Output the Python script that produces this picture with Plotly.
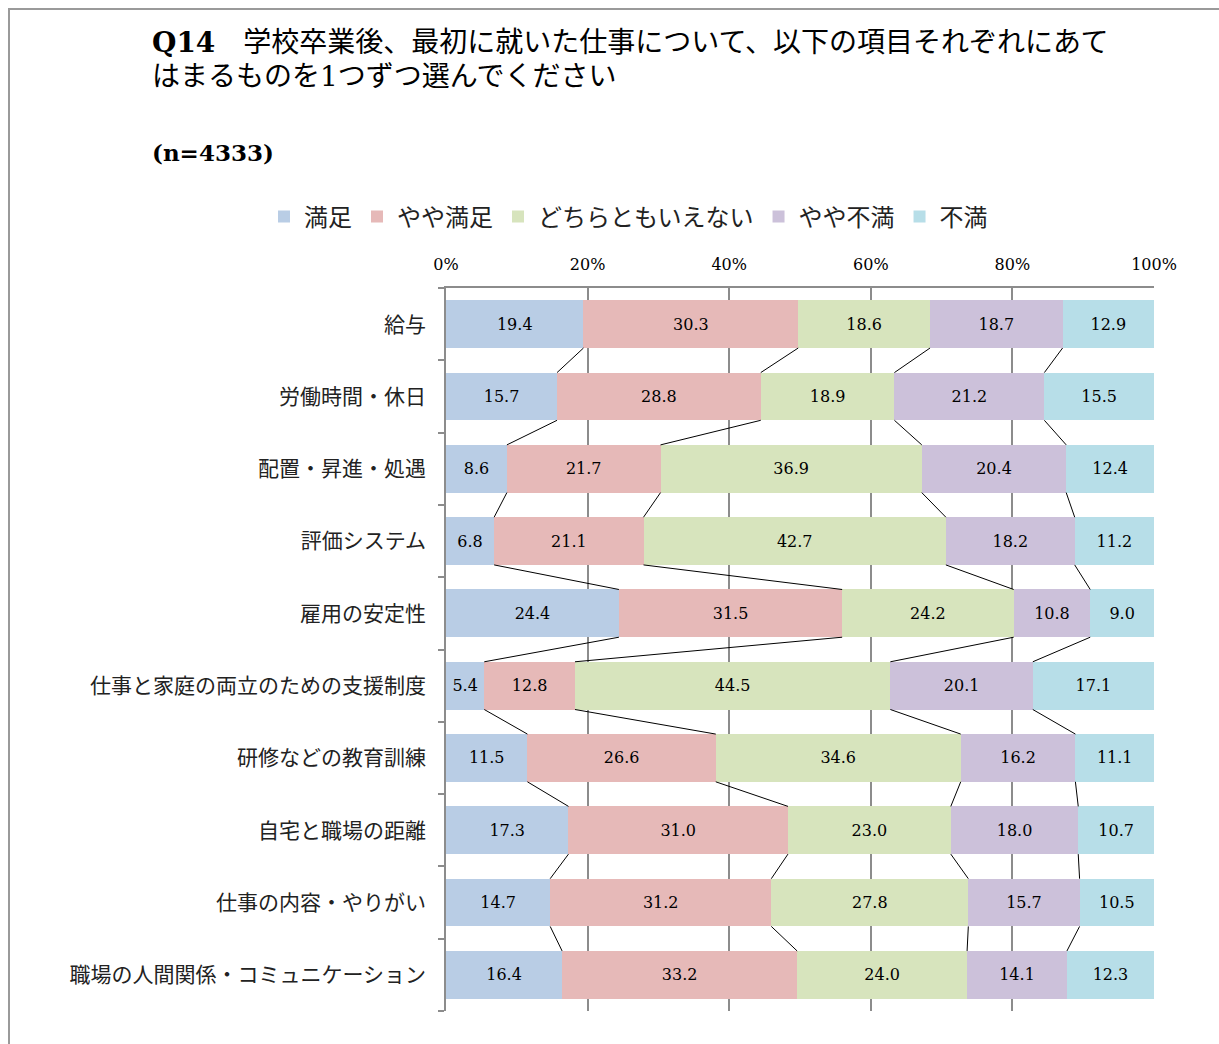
import plotly.graph_objects as go

categories = ["給与", "労働時間・休日", "配置・昇進・処遇", "評価システム", "雇用の安定性",
              "仕事と家庭の両立のための支援制度", "研修などの教育訓練", "自宅と職場の距離",
              "仕事の内容・やりがい", "職場の人間関係・コミュニケーション"]
series_names = ["満足", "やや満足", "どちらともいえない", "やや不満", "不満"]
manzoku = [19.4, 15.7, 8.6, 6.8, 24.4, 5.4, 11.5, 17.3, 14.7, 16.4]
yaya_manzoku = [30.3, 28.8, 21.7, 21.1, 31.5, 12.8, 26.6, 31.0, 31.2, 33.2]
dochiramo = [18.6, 18.9, 36.9, 42.7, 24.2, 44.5, 34.6, 23.0, 27.8, 24.0]
yaya_fuman = [18.7, 21.2, 20.4, 18.2, 10.8, 20.1, 16.2, 18.0, 15.7, 14.1]
fuman = [12.9, 15.5, 12.4, 11.2, 9.0, 17.1, 11.1, 10.7, 10.5, 12.3]
x_ticks = [0, 20, 40, 60, 80, 100]

series_values = [manzoku, yaya_manzoku, dochiramo, yaya_fuman, fuman]
colors = ["#b9cde5", "#e6b9b8", "#d7e4bd", "#ccc1da", "#b7dee8"]

W, H = 1219, 1044
L, R, T, B = 446, 1154, 288, 1011
def px(x):
    return (x - L) / (R - L)
def py(y):
    return (B - y) / (B - T)

SERIF = "DejaVu Serif, Noto Sans CJK JP"
CJK = "Noto Sans CJK JP"
BAR_W = 0.66

idx = list(range(len(categories)))
fig = go.Figure()
for name, vals, col in zip(series_names, series_values, colors):
    fig.add_trace(go.Bar(
        name=name, y=idx, x=vals, orientation="h", width=BAR_W,
        marker=dict(color=col, line=dict(width=0)),
        text=[f"{v:.1f}" for v in vals], texttemplate="%{text}",
        textposition="inside", insidetextanchor="middle", textangle=0,
        textfont=dict(family=SERIF, size=16, color="black"),
        hoverinfo="skip",
    ))

# series lines connecting stacked boundaries between adjacent bars
totals = [sum(s[i] for s in series_values) for i in idx]
cums = []
for i in idx:
    c, row = 0.0, []
    for s in series_values[:-1]:
        c += s[i]
        row.append(c / totals[i] * 100)
    cums.append(row)
lx, ly = [], []
for k in range(len(series_values) - 1):
    for i in idx[:-1]:
        lx += [cums[i][k], cums[i + 1][k], None]
        ly += [i + BAR_W / 2, i + 1 - BAR_W / 2, None]
fig.add_trace(go.Scatter(x=lx, y=ly, mode="lines", line=dict(color="black", width=1),
                         showlegend=False, hoverinfo="skip"))

fig.update_layout(
    width=W, height=H, barmode="stack", barnorm="percent",
    margin=dict(l=L, r=W - R, t=T, b=H - B, autoexpand=False),
    paper_bgcolor="white", plot_bgcolor="white",
    font=dict(family=SERIF, color="black"),
    showlegend=True,
    legend=dict(orientation="h", x=px(264), y=py(217), xanchor="left", yanchor="middle",
                font=dict(family=CJK, size=24, color="#222"), traceorder="normal",
                itemwidth=30, bgcolor="rgba(0,0,0,0)"),
    xaxis=dict(range=[0, 100], side="top", tickvals=x_ticks,
               ticktext=[f"{v}%" for v in x_ticks], showgrid=True, gridcolor="#8c8c8c",
               gridwidth=1.5, showline=True, linecolor="#8c8c8c", linewidth=1.5,
               zeroline=False, ticks="", ticklabelstandoff=10,
               tickfont=dict(family=SERIF, size=16, color="black")),
    yaxis=dict(range=[len(categories) - 0.5, -0.5], tickvals=idx, ticktext=categories,
               showgrid=False, zeroline=False, showline=True, linecolor="#8c8c8c",
               linewidth=1.5, ticks="", ticklabelstandoff=14,
               tickfont=dict(family=CJK, size=21, color="#222"),
               minor=dict(ticks="outside", tickvals=[i - 0.5 for i in range(len(categories) + 1)],
                          ticklen=6, tickcolor="#8c8c8c", tickwidth=1.5, showgrid=False)),
    shapes=[dict(type="rect", xref="paper", yref="paper",
                 x0=px(9), x1=px(1240), y0=py(1060), y1=py(9),
                 line=dict(color="#9a9a9a", width=2), fillcolor="rgba(0,0,0,0)", layer="above")],
    annotations=[
        dict(text="<b>Q14</b>　学校卒業後、最初に就いた仕事について、以下の項目それぞれにあて",
             x=px(150), y=py(42), xref="paper", yref="paper", xanchor="left", yanchor="middle",
             showarrow=False, font=dict(family=SERIF, size=28, color="black")),
        dict(text="はまるものを1つずつ選んでください",
             x=px(150), y=py(77), xref="paper", yref="paper", xanchor="left", yanchor="middle",
             showarrow=False, font=dict(family=SERIF, size=28, color="black")),
        dict(text="<b>(n=4333)</b>",
             x=px(150), y=py(152), xref="paper", yref="paper", xanchor="left", yanchor="middle",
             showarrow=False, font=dict(family=SERIF, size=23, color="black")),
    ],
)

fig.write_html("out.html", config={"displayModeBar": False},
               post_script="document.body.style.margin='0';")
